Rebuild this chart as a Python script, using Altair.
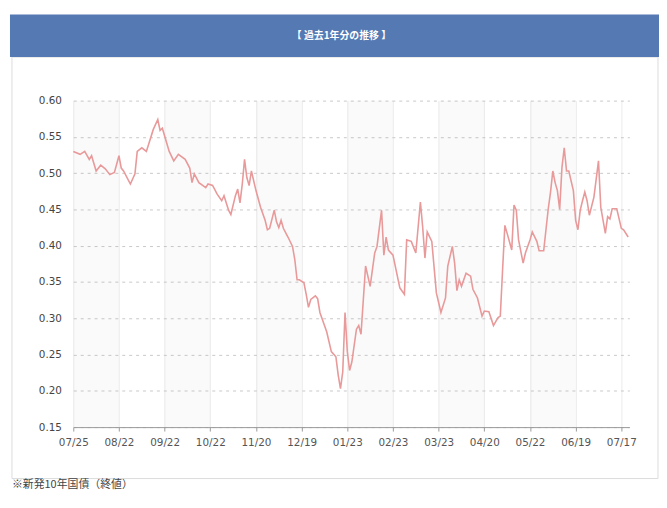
import altair as alt
import pandas as pd

# trading-day index (x) and yield (%)
day_index = [0, 3, 5, 7, 8, 10, 12, 14, 16, 18, 20, 21, 22, 25, 27, 28, 30, 32, 33, 35,
             37, 38, 39, 42, 44, 46, 49, 51, 52, 53, 55, 58, 59, 61, 63, 65, 66, 68, 69, 71,
             72, 73, 74, 75, 76, 77, 78, 80, 82, 84, 85, 86, 88, 89, 90, 91, 92, 94, 96, 97,
             98, 99, 101, 102, 103, 104, 106, 107, 108, 109, 111, 113, 115, 116, 117, 118, 119, 120, 121, 122,
             124, 125, 126, 128, 130, 132, 133, 135, 136, 137, 138, 140, 141, 143, 145, 146, 148, 150, 152, 153,
             154, 155, 157, 159, 161, 163, 164, 166, 167, 168, 169, 170, 172, 174, 175, 177, 179, 180, 182, 184,
             186, 187, 188, 189, 190, 192, 193, 194, 195, 197, 198, 200, 201, 203, 204, 206, 208, 209, 210, 211,
             212, 213, 214, 215, 216, 217, 219, 220, 221, 222, 223, 224, 225, 226, 228, 230, 231, 233, 234, 235,
             236, 238, 240, 241, 243]
yield_pct = [0.530, 0.526, 0.530, 0.519, 0.524, 0.503, 0.511, 0.506, 0.498, 0.501, 0.524, 0.507, 0.503, 0.485, 0.499, 0.530, 0.535, 0.530, 0.540, 0.560,
             0.574, 0.559, 0.562, 0.530, 0.517, 0.526, 0.519, 0.507, 0.487, 0.499, 0.487, 0.480, 0.485, 0.483, 0.471, 0.462, 0.469, 0.449, 0.443, 0.469,
             0.478, 0.459, 0.485, 0.519, 0.494, 0.483, 0.503, 0.476, 0.453, 0.435, 0.422, 0.424, 0.449, 0.433, 0.425, 0.435, 0.424, 0.412, 0.399, 0.381,
             0.353, 0.353, 0.349, 0.333, 0.315, 0.326, 0.331, 0.327, 0.308, 0.299, 0.281, 0.254, 0.247, 0.222, 0.203, 0.226, 0.308, 0.254, 0.228, 0.240,
             0.285, 0.290, 0.278, 0.372, 0.344, 0.390, 0.399, 0.449, 0.387, 0.412, 0.394, 0.387, 0.372, 0.342, 0.333, 0.408, 0.406, 0.390, 0.460, 0.426,
             0.383, 0.419, 0.406, 0.335, 0.308, 0.328, 0.372, 0.399, 0.376, 0.338, 0.353, 0.344, 0.362, 0.358, 0.340, 0.328, 0.303, 0.310, 0.309, 0.290,
             0.301, 0.303, 0.367, 0.428, 0.417, 0.394, 0.456, 0.449, 0.408, 0.376, 0.390, 0.408, 0.419, 0.406, 0.393, 0.393, 0.451, 0.474, 0.503, 0.487,
             0.476, 0.450, 0.508, 0.535, 0.503, 0.503, 0.476, 0.435, 0.422, 0.449, 0.462, 0.474, 0.462, 0.442, 0.467, 0.517, 0.453, 0.417, 0.440, 0.437,
             0.451, 0.451, 0.424, 0.422, 0.412]

tick_days = [0, 20, 40, 60, 80, 100, 120, 140, 160, 180, 200, 220, 240]
tick_labels = ["07/25", "08/22", "09/22", "10/22", "11/20", "12/19", "01/23",
               "02/23", "03/23", "04/20", "05/22", "06/19", "07/17"]
band_start = [0, 40, 80, 120, 160, 200]
band_end = [20, 60, 100, 140, 180, 220]
y_ticks = [0.15, 0.20, 0.25, 0.30, 0.35, 0.40, 0.45, 0.50, 0.55, 0.60]
title_text = "【 過去1年分の推移 】"
note_text = "※新発10年国債（終値）"

df = pd.DataFrame({"day": day_index, "yield": yield_pct})
bands = pd.DataFrame({"start": band_start, "end": band_end})

xscale = alt.Scale(domain=[0, 243.5], nice=False, zero=False)
yscale = alt.Scale(domain=[0.15, 0.60], nice=False, zero=False)

label_expr = "[" + ",".join("'%s'" % t for t in tick_labels) + "][round(datum.value/20)]"

x_axis = alt.Axis(values=tick_days, labelExpr=label_expr, title=None, grid=True,
                  gridColor="#ececec", gridWidth=1, domainColor="#9a9a9a",
                  tickColor="#9a9a9a", tickSize=4, labelColor="#555555",
                  labelFontSize=10.5, labelPadding=7, labelFont="DejaVu Sans",
                  labelFlush=False, labelOverlap=False, labelBound=False)
y_axis = alt.Axis(values=y_ticks, format=".2f", title=None, grid=True,
                  gridColor="#c8c8c8", gridDash=[3, 4], gridWidth=1,
                  domain=False, ticks=False, labelColor="#444444",
                  labelFontSize=10.5, labelPadding=12, labelFont="DejaVu Sans",
                  labelFlush=False, labelOverlap=False)

one = alt.Data(values=[{}])

box = alt.Chart(one).mark_rect(filled=False, stroke="#dcdcdc", strokeWidth=1).encode(
    x=alt.value(-62), x2=alt.value(591), y=alt.value(-44), y2=alt.value(382))
header = alt.Chart(one).mark_rect(color="#5479b3").encode(
    x=alt.value(-64), x2=alt.value(600), y=alt.value(-87), y2=alt.value(-44))
header_text = alt.Chart(one).mark_text(
    color="white", fontSize=10, fontWeight="bold", font="Noto Sans CJK JP",
    align="center", baseline="middle").encode(
    x=alt.value(271), y=alt.value(-65), text=alt.value(title_text))

band_layer = alt.Chart(bands).mark_rect(color="#888888", opacity=0.045).encode(
    x=alt.X("start:Q", scale=xscale, axis=x_axis), x2="end:Q")

line = alt.Chart(df).mark_line(color="#e8999a", strokeWidth=1.6).encode(
    x=alt.X("day:Q", scale=xscale, axis=x_axis),
    y=alt.Y("yield:Q", scale=yscale, axis=y_axis))

note = alt.Chart(one).mark_text(
    align="left", baseline="middle", fontSize=11, color="#444444",
    font="Noto Sans CJK JP").encode(
    x=alt.value(-62), y=alt.value(389), text=alt.value(note_text))

chart = alt.layer(box, header, header_text, band_layer, line, note).properties(
    width=562, height=330,
    autosize=alt.AutoSizeParams(type="none"),
    padding={"left": 66, "top": 91, "right": 30, "bottom": 65},
    background="white",
).configure_view(stroke=None)

chart.save("out.html", embed_options={"renderer": "svg", "actions": False})
